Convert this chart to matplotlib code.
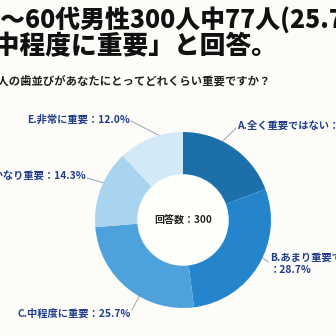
import matplotlib.pyplot as plt

plt.rcParams['font.family'] = ['Noto Sans CJK JP', 'DejaVu Sans']

# data
categories = ["A.全く重要ではない", "B.あまり重要ではない", "C.中程度に重要",
              "D.かなり重要", "E.非常に重要"]
shares = [19.3, 28.7, 25.7, 14.3, 12.0]
n_answers = 300
colors = ["#1d6fa9", "#2585cc", "#4ea2dc", "#a9d4f0", "#d4e9f7"]

bg = "#fdfcf8"
label_color = "#1f3d8c"

fig = plt.figure(figsize=(3.36, 3.36), dpi=100, facecolor=bg)

# overlay in pixel coordinates for texts and leader lines
over = fig.add_axes([0, 0, 1, 1])
over.set_xlim(0, 336)
over.set_ylim(336, 0)
over.axis("off")

# donut
cx, cy, r = 183, 220, 88
ax = fig.add_axes([(cx - r) / 336, (336 - cy - r) / 336, 2 * r / 336, 2 * r / 336])
ax.pie(shares, colors=colors, startangle=90, counterclock=False,
       radius=1, wedgeprops=dict(width=0.48, linewidth=0))
ax.add_patch(plt.Circle((0, 0), 0.52, color="#fefefa", zorder=0))
ax.set_xlim(-1, 1)
ax.set_ylim(-1, 1)
ax.set_aspect("equal")
ax.axis("off")
ax.text(0, -0.01, f"回答数：{n_answers}", ha="center", va="center",
        fontsize=7.2, fontweight="bold", color="#222222")

# titles (cropped at the edges like the reference)
over.text(-55, 20, "40代～60代男性300人中77人(25.7%)が", fontsize=17.9,
          fontweight="heavy", color="#111111", va="center", ha="left")
over.text(-31, 46, "「中程度に重要」と回答。", fontsize=18.5,
          fontweight="heavy", color="#111111", va="center", ha="left")
over.text(-13, 81, "他人の歯並びがあなたにとってどれくらい重要ですか？", fontsize=8.2,
          fontweight="bold", color="#222222", va="center", ha="left")

# labels with leader lines
labels = [f"{c}：{v:.1f}%" for c, v in zip(categories, shares)]
labels[1] = f"{categories[1]}\n：{shares[1]:.1f}%"
label_pos = [(237, 126, "left"), (270, 264, "left"), (131, 314, "right"),
             (86, 176, "right"), (130, 120, "right")]
line_pts = [((236, 128), (209, 155)), ((268, 262), (235, 236)),
            ((132, 310), (150, 275)), ((87, 178), (118, 187)),
            ((131, 121), (166, 139))]
for lab, (x, y, ha), (p0, p1) in zip(labels, label_pos, line_pts):
    over.text(x, y, lab, fontsize=7.4, fontweight="bold", color=label_color,
              ha=ha, va="center", linespacing=1.3)
    over.plot([p0[0], p1[0]], [p0[1], p1[1]], color="#9aa6b4", lw=0.7)

fig.savefig("out.png", dpi=100, facecolor=bg)
